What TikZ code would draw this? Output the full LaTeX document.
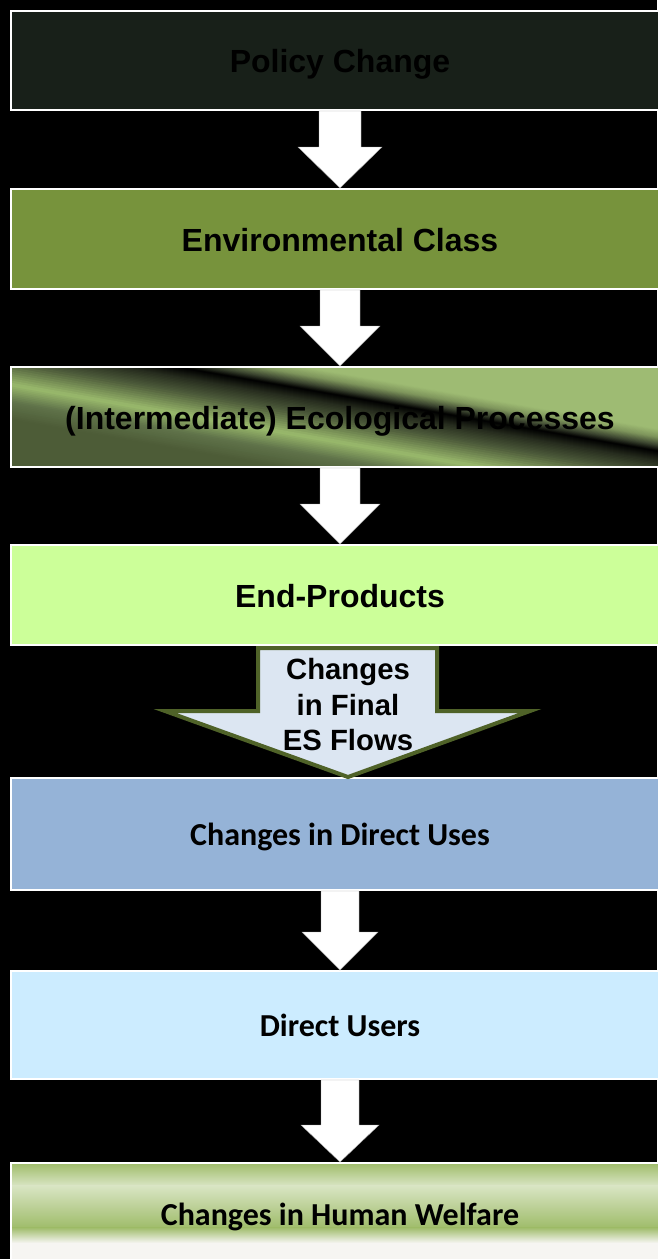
\documentclass[tikz,border=0pt]{standalone}
\usepackage{fontspec}
\setmainfont{Liberation Sans}
\newfontfamily\calibri{Carlito}
\usetikzlibrary{calc}
\definecolor{pcdark}{HTML}{182019}
\definecolor{envgreen}{HTML}{77933C}
\definecolor{endgreen}{HTML}{CCFF99}
\definecolor{dublue}{HTML}{95B3D7}
\definecolor{usrblue}{HTML}{CCECFF}
\definecolor{arrfill}{HTML}{DCE6F2}
\definecolor{arrline}{HTML}{4F6228}
\definecolor{gA}{HTML}{9EBB73}
\definecolor{gB}{HTML}{7E955C}
\definecolor{gC}{HTML}{3C4530}
\definecolor{gD}{HTML}{262C1E}
\definecolor{gE}{HTML}{4E5C3B}
\definecolor{gS}{HTML}{9ABA6C}
\definecolor{gF}{HTML}{60734A}
\definecolor{gG}{HTML}{4D5C37}
\definecolor{hwA}{HTML}{9FBC6A}
\definecolor{hwB}{HTML}{D9E5C4}
\definecolor{hwW}{HTML}{F6F5F2}
\tikzset{
  box/.style={draw=white, line width=2pt, minimum width=658pt, inner sep=0pt, text=black, text depth=0pt},
  arialbig/.style={font=\bfseries\fontsize{32}{38}\selectfont, text height=24pt},
  calbig/.style={font=\calibri\bfseries\fontsize{32}{38}\selectfont, text height=23pt},
  whitearrow/.style={fill=white, draw=gray!70, line width=0.4pt},
}
\newcommand\blockarr[5]{%
  \path[whitearrow] ($(#1.south)+(-#3,0)$) -- ($(#2.north)+(-#3,-#5)$) -- ($(#2.north)+(-#4,-#5)$)
    -- (#2.north) -- ($(#2.north)+(#4,-#5)$) -- ($(#2.north)+(#3,-#5)$) -- ($(#1.south)+(#3,0)$) -- cycle;}
\begin{document}
\begin{tikzpicture}[x=1pt,y=-1pt]
\fill[black] (0,0) rectangle (657,1259);
\useasboundingbox (0,0) rectangle (657,1259);

% gradient of box 3
\begin{scope}
\clip (11,367) rectangle (669,467);
\foreach \ca/\cb/\colA/\colB in {230/314/gA/gA, 314/322/gA/gB, 322/330/gB/gC, 330/336/gC/black, 336/346/black/gD, 346/361/gD/gE, 361/383/gE/gS, 383/400/gS/gF, 400/418/gF/gG, 418/480/gG/gG}{
  \foreach \k in {0,...,9}{
    \pgfmathsetmacro\ya{\ca+(\cb-\ca)*\k/10}
    \pgfmathsetmacro\yb{\ca+(\cb-\ca)*(\k+1)/10+0.7}
    \pgfmathtruncatemacro\p{95-\k*10}
    \fill[\colA!\p!\colB] (0,\ya) -- (700,{\ya+122.5}) -- (700,{\yb+122.5}) -- (0,\yb) -- cycle;
  }
}
\end{scope}

% gradient of box 7
\shade[top color=hwA, bottom color=hwB] (11,1163) rectangle (669,1186);
\shade[top color=hwB, bottom color=hwA] (11,1185.5) rectangle (669,1228);
\shade[top color=hwA, bottom color=hwW] (11,1227.5) rectangle (669,1243);
\fill[hwW] (11,1242.5) rectangle (669,1266);

\node[box, arialbig, fill=pcdark, minimum height=99pt] (b1) at (340,60.5) {Policy Change};
\node[box, arialbig, fill=envgreen, minimum height=100pt] (b2) at (340,239) {Environmental Class};
\node[box, arialbig, minimum height=100pt] (b3) at (340,417) {(Intermediate) Ecological Processes};
\node[box, arialbig, fill=endgreen, minimum height=100pt] (b4) at (340,595) {End-Products};
\node[box, calbig, fill=dublue, minimum height=112pt] (b5) at (340,834) {Changes in Direct Uses};
\node[box, calbig, fill=usrblue, minimum height=108pt] (b6) at (340,1025) {Direct Users};
\node[box, calbig, minimum height=102pt] (b7) at (340,1214) {Changes in Human Welfare};

\blockarr{b1}{b2}{21}{42}{41}
\blockarr{b2}{b3}{20}{40}{40}
\blockarr{b3}{b4}{20}{40}{40}
\blockarr{b5}{b6}{19}{38}{38}
\blockarr{b6}{b7}{19}{39}{37}

% big arrow
\draw[fill=arrfill, draw=arrline, line width=4pt, line join=miter]
  ($(b4.south)+(-82,2)$) -- ($(b5.north)+(-82,-66)$) -- ($(b5.north)+(-175,-66)$)
  -- ($(b5.north)+(8,0)$) -- ($(b5.north)+(190,-66)$) -- ($(b5.north)+(97,-66)$)
  -- ($(b4.south)+(97,2)$) -- cycle;
\node[align=center, font=\bfseries\fontsize{29.3}{35.5}\selectfont, inner sep=0pt] (flows) at (348,705) {Changes\\in Final\\ES Flows};
\end{tikzpicture}
\end{document}
